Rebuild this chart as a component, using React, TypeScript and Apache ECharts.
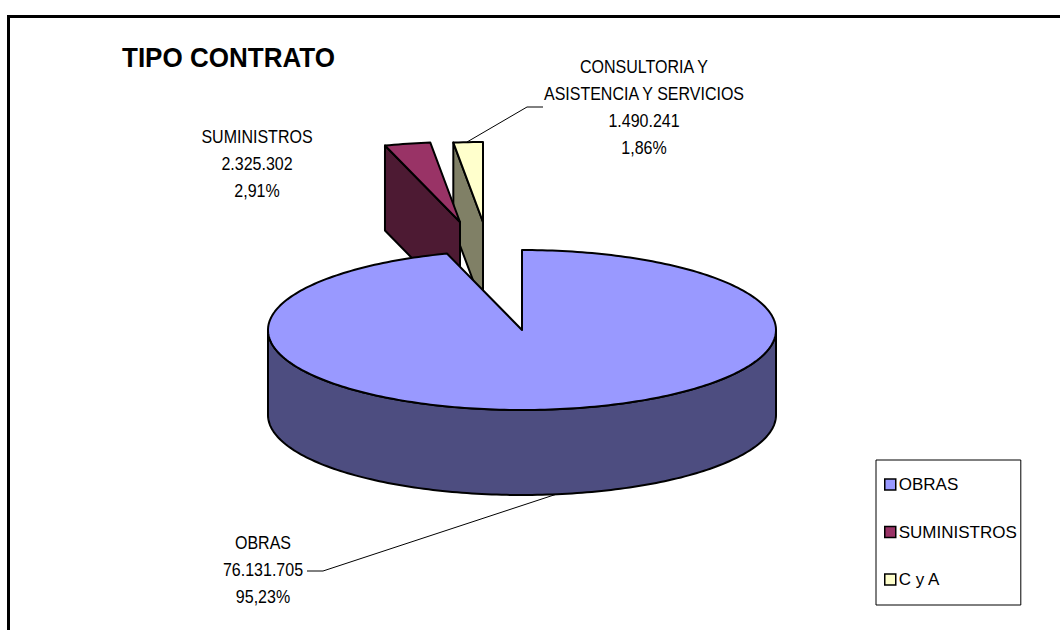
import React, { useEffect, useRef } from "react";
import * as echarts from "echarts";

const categories = ["OBRAS", "SUMINISTROS", "CONSULTORIA Y\nASISTENCIA Y SERVICIOS"];
const legendNames = ["OBRAS", "SUMINISTROS", "C y A"];
const values = [76131705, 2325302, 1490241];
const topColors = ["#9999FF", "#993366", "#FFFFCC"];
const sideColors = ["#4D4D80", "#4D1A33", "#808066"];
const explodeX = [0, -62, -39];
const explodeY = [0, -108, -108];
const labelCenterX = [263, 257, 644];
const labelTopY = [543, 137, 67];
const title = "TIPO CONTRATO";

const CX = 522, CY = 330, RX = 254, RY = 80, DEPTH = 85;
const FONT = '"Liberation Sans", Arial, sans-serif';
const total = values.reduce((a, b) => a + b, 0);
const groupThousands = (n: number) => String(n).replace(/\B(?=(\d{3})+$)/g, ".");
const pct = (n: number) => ((n / total) * 100).toFixed(2).replace(".", ",") + "%";

function sliceAngles(idx: number) {
  let start = 0;
  for (let i = 0; i < idx; i++) start += values[i];
  const toRad = (v: number) => (v / total) * Math.PI * 2;
  return [toRad(start), toRad(start + values[idx])];
}
const pt = (t: number, ox: number, oy: number): number[] => [
  CX + ox + RX * Math.sin(t),
  CY + oy - RY * Math.cos(t),
];

// drawn back to front
const order = [2, 1, 0];

function renderSlice(params: any) {
  const ordered = order[params.seriesIndex];
  const [a0, a1] = sliceAngles(ordered);
  const ox = explodeX[ordered];
  const oy = explodeY[ordered];
  const stroke = { stroke: "#000", lineWidth: 2, lineJoin: "round" };
  const children: any[] = [];
  const apex = [CX + ox, CY + oy];
  const arc: number[][] = [];
  const steps = Math.max(3, Math.ceil((a1 - a0) / 0.02));
  for (let s = 0; s <= steps; s++) arc.push(pt(a0 + ((a1 - a0) * s) / steps, ox, oy));
  // outer wall: only the part of the rim that faces the viewer
  const lo = Math.max(a0, Math.PI / 2);
  const hi = Math.min(a1, (Math.PI * 3) / 2);
  if (hi > lo) {
    const front: number[][] = [];
    const n = Math.ceil((hi - lo) / 0.02);
    for (let s = 0; s <= n; s++) front.push(pt(lo + ((hi - lo) * s) / n, ox, oy));
    const back = front.map((p) => [p[0], p[1] + DEPTH]).reverse();
    children.push({ type: "polygon", shape: { points: front.concat(back) }, style: { fill: sideColors[ordered], ...stroke } });
  }
  // cut face on the left of a slice that was pulled out
  if (ordered !== 0) {
    const p = pt(a0, ox, oy);
    const q = [apex[0], apex[1] + DEPTH];
    const r = [p[0], p[1] + DEPTH];
    children.push({ type: "polygon", shape: { points: [p, apex, q, r] }, style: { fill: sideColors[ordered], ...stroke } });
  }
  children.push({ type: "polygon", shape: { points: [apex, ...arc] }, style: { fill: topColors[ordered], ...stroke } });
  return { type: "group", children };
}

const leaderLines = [
  [[560, 493], [323, 571], [307, 571]],
  [[467, 142], [527, 107], [543, 107]],
];

function labelTexts() {
  const out: any[] = [];
  categories.forEach((c, i) => {
    const lines = [...c.split("\n"), groupThousands(values[i]), pct(values[i])];
    lines.forEach((line, k) => {
      out.push({
        type: "text",
        x: labelCenterX[i],
        y: labelTopY[i] + k * 26.9,
        scaleX: 0.89,
        style: { text: line, fill: "#000", font: `18px ${FONT}`, align: "center", verticalAlign: "middle" },
      });
    });
  });
  return out;
}

export default function App() {
  const ref = useRef<HTMLDivElement>(null);
  useEffect(() => {
    const chart = echarts.init(ref.current!, undefined, { renderer: "svg" });
    chart.setOption({
      animation: false,
      backgroundColor: "#fff",
      legend: {
        orient: "vertical",
        left: 876,
        top: 460,
        width: 145,
        padding: [16, 4, 17, 8],
        itemGap: 30.5,
        itemWidth: 11,
        itemHeight: 11,
        borderColor: "#000",
        borderWidth: 1,
        backgroundColor: "#fff",
        data: legendNames.map((name) => ({ name, icon: "rect" })),
        itemStyle: { borderColor: "#000", borderWidth: 1.5 },
        textStyle: { fontFamily: FONT, fontSize: 17, color: "#000", padding: [0, 0, 0, -2] },
        selectedMode: false,
      },
      series: order.map((idx) => ({
        type: "custom",
        name: legendNames[idx],
        coordinateSystem: "none",
        renderItem: renderSlice,
        data: [[values[idx]]],
        itemStyle: { color: topColors[idx] },
        silent: true,
      })),
      graphic: [
        { type: "rect", shape: { x: 8.5, y: 16.5, width: 2000, height: 2000 }, style: { fill: "none", stroke: "#000", lineWidth: 3 }, silent: true },
        { type: "text", x: 122, y: 58, scaleX: 0.93, style: { text: title, fill: "#000", font: `bold 28px ${FONT}`, align: "left", verticalAlign: "middle" } },
        ...leaderLines.map((pts) => ({
          type: "polyline",
          shape: { points: pts },
          style: { stroke: "#000", lineWidth: 1, fill: "none" },
          silent: true,
        })),
        ...labelTexts(),
      ],
    });
    return () => chart.dispose();
  }, []);
  return <div ref={ref} style={{ position: "fixed", left: 0, top: 0, width: 1060, height: 630 }} />;
}
